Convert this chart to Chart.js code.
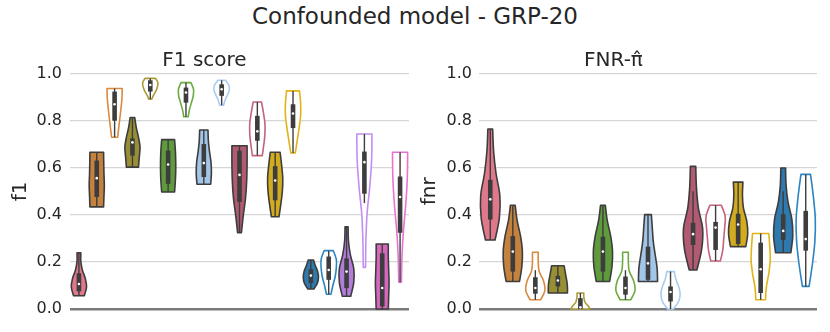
<!DOCTYPE html>
<html>
<head>
<meta charset="utf-8">
<script src="https://cdn.jsdelivr.net/npm/chart.js@4.4.1/dist/chart.umd.min.js"></script>
<style>
  html, body { margin: 0; padding: 0; background: #fff; }
  #wrap { position: relative; width: 830px; height: 332px; overflow: hidden; }
  #suptitle {
    position: absolute; left: 0; top: 3px; width: 830px; text-align: center;
    font-family: "DejaVu Sans", sans-serif; font-size: 23px; color: #262626;
  }
  .panel { position: absolute; top: 0; height: 332px; }
</style>
</head>
<body>
<div id="wrap">
  <div id="suptitle">Confounded model - GRP-20</div>
  <div class="panel" style="left:0;width:410px"><canvas id="f1-chart" width="410" height="332"></canvas></div>
  <div class="panel" style="left:410px;width:420px"><canvas id="fnr-chart" width="420" height="332"></canvas></div>
</div>
<script>
// Colours (filled violin / outline violin pairs)
const PINK = '#e0788c';
const ORANGE = '#c5813e', ORANGE_L = '#d98a3e';
const OLIVE = '#988f35', OLIVE_L = '#ab9c38';
const GREEN = '#5f9b3c', GREEN_L = '#6aab42';
const LBLUE = '#a3c5e8', LBLUE_L = '#a8ccf0';
const MAROON = '#b15a72', MAROON_L = '#c4637b';
const YELLOW = '#d2ab1e', YELLOW_L = '#e0b417';
const BLUE = '#2e79ad', BLUE_L = '#2a85c0';
const PURPLE = '#b27dd9', PURPLE_L = '#c48ef0';
const MAGENTA = '#d568bd', MAGENTA_L = '#e873d2';

const yTicks = [0, 0.2, 0.4, 0.6, 0.8, 1.0];

// ---- F1 score panel ----
const f1Labels = ['v1','v2','v3','v4','v5','v6','v7','v8','v9','v10','v11','v12','v13','v14','v15','v16','v17','v18','v19'];
const f1Colors = [PINK, ORANGE, ORANGE_L, OLIVE, OLIVE_L, GREEN, GREEN_L, LBLUE, LBLUE_L, MAROON, MAROON_L,
                  YELLOW, YELLOW_L, BLUE, BLUE_L, PURPLE, PURPLE_L, MAGENTA, MAGENTA_L];
const f1Filled = [true, true, false, true, false, true, false, true, false, true, false,
                  true, false, true, false, true, false, true, false];
const f1Min = [0.056, 0.434, 0.730, 0.603, 0.892, 0.497, 0.817, 0.530, 0.866, 0.324, 0.652, 0.392, 0.663, 0.085, 0.063, 0.054, 0.177, 0.000, 0.114];
const f1Max = [0.239, 0.666, 0.937, 0.814, 0.980, 0.720, 0.962, 0.761, 0.972, 0.694, 0.880, 0.666, 0.927, 0.208, 0.248, 0.349, 0.744, 0.276, 0.666];
const f1Q1  = [0.075, 0.476, 0.800, 0.652, 0.924, 0.532, 0.877, 0.561, 0.906, 0.455, 0.715, 0.462, 0.769, 0.110, 0.124, 0.089, 0.490, 0.011, 0.324];
const f1Med = [0.106, 0.556, 0.870, 0.708, 0.952, 0.614, 0.920, 0.620, 0.934, 0.570, 0.755, 0.546, 0.831, 0.142, 0.166, 0.159, 0.624, 0.089, 0.476];
const f1Q3  = [0.152, 0.631, 0.924, 0.725, 0.972, 0.673, 0.941, 0.701, 0.955, 0.673, 0.821, 0.607, 0.870, 0.169, 0.223, 0.215, 0.669, 0.237, 0.563];
const f1WhiskLo = [0.056, 0.434, 0.730, 0.603, 0.892, 0.497, 0.817, 0.530, 0.866, 0.324, 0.652, 0.392, 0.663, 0.085, 0.063, 0.054, 0.450, 0.000, 0.114];
const f1WhiskHi = [0.239, 0.666, 0.937, 0.814, 0.980, 0.720, 0.962, 0.761, 0.972, 0.694, 0.880, 0.666, 0.927, 0.208, 0.248, 0.349, 0.744, 0.276, 0.666];
// relative violin widths, from min (first) to max (last)
const f1Widths = [
  [0.7, 1.0, 0.85, 0.45, 0.25, 0.25],
  [0.9, 0.95, 1.0, 0.95, 0.92, 0.9],
  [0.4, 0.55, 0.7, 0.85, 0.97, 1.0],
  [0.8, 0.9, 1.0, 0.8, 0.5, 0.3],
  [0.2, 0.45, 0.75, 0.95, 1.0, 0.7],
  [0.85, 0.95, 1.0, 1.0, 0.95, 0.85],
  [0.3, 0.45, 0.7, 0.95, 1.0, 0.65],
  [0.9, 1.0, 0.95, 0.75, 0.6, 0.55],
  [0.25, 0.45, 0.75, 1.0, 0.95, 0.5],
  [0.25, 0.5, 0.8, 0.95, 1.0, 1.0],
  [0.65, 0.85, 1.0, 1.0, 0.8, 0.55],
  [0.5, 0.75, 0.95, 1.0, 0.85, 0.65],
  [0.3, 0.55, 0.8, 1.0, 1.0, 0.85],
  [0.4, 0.85, 1.0, 0.9, 0.6, 0.35],
  [0.3, 0.55, 0.85, 1.0, 1.0, 0.6],
  [0.55, 0.95, 0.95, 0.5, 0.25, 0.2],
  [0.15, 0.2, 0.35, 0.7, 0.95, 1.0],
  [0.8, 0.85, 0.9, 0.85, 0.8, 0.8],
  [0.18, 0.25, 0.45, 0.75, 0.95, 1.0]
];

// ---- FNR panel ----
const fnrLabels = ['v1','v2','v3','v4','v5','v6','v7','v8','v9','v10','v11','v12','v13','v14','v15'];
const fnrColors = [PINK, ORANGE, ORANGE_L, OLIVE, OLIVE_L, GREEN, GREEN_L, LBLUE, LBLUE_L, MAROON, MAROON_L,
                   YELLOW, YELLOW_L, BLUE, BLUE_L];
const fnrFilled = [true, true, false, true, false, true, false, true, false, true, false, true, false, true, false];
const fnrMin = [0.293, 0.117, 0.039, 0.068, 0.000, 0.117, 0.039, 0.117, 0.000, 0.166, 0.204, 0.265, 0.039, 0.239, 0.096];
const fnrMax = [0.765, 0.441, 0.241, 0.184, 0.068, 0.441, 0.241, 0.401, 0.159, 0.606, 0.441, 0.539, 0.321, 0.599, 0.572];
const fnrQ1  = [0.380, 0.159, 0.065, 0.096, 0.000, 0.159, 0.061, 0.124, 0.032, 0.272, 0.251, 0.276, 0.068, 0.293, 0.248];
const fnrMed = [0.466, 0.244, 0.089, 0.121, 0.007, 0.244, 0.089, 0.194, 0.072, 0.318, 0.346, 0.359, 0.169, 0.332, 0.297];
const fnrQ3  = [0.549, 0.310, 0.135, 0.141, 0.046, 0.307, 0.138, 0.265, 0.096, 0.366, 0.370, 0.405, 0.282, 0.403, 0.417];
const fnrWhiskLo = [0.293, 0.117, 0.039, 0.068, 0.000, 0.117, 0.039, 0.117, 0.000, 0.166, 0.204, 0.265, 0.039, 0.239, 0.096];
const fnrWhiskHi = [0.765, 0.441, 0.165, 0.184, 0.068, 0.441, 0.165, 0.401, 0.159, 0.500, 0.441, 0.539, 0.321, 0.500, 0.572];
const fnrWidths = [
  [0.5, 0.95, 1.0, 0.6, 0.35, 0.25],
  [0.7, 0.95, 1.0, 0.8, 0.45, 0.25],
  [0.55, 1.0, 0.85, 0.4, 0.3, 0.3],
  [1.0, 1.0, 0.95, 0.85, 0.75, 0.65],
  [1.0, 0.8, 0.5, 0.4, 0.35, 0.35],
  [0.7, 0.95, 1.0, 0.8, 0.45, 0.25],
  [0.55, 1.0, 0.85, 0.4, 0.3, 0.3],
  [1.0, 0.95, 0.75, 0.55, 0.45, 0.35],
  [0.3, 0.85, 1.0, 0.85, 0.55, 0.4],
  [0.4, 0.9, 1.0, 0.55, 0.35, 0.28],
  [0.5, 0.75, 0.85, 0.95, 1.0, 0.6],
  [0.8, 1.0, 0.9, 0.55, 0.45, 0.5],
  [0.5, 0.6, 0.85, 1.0, 0.95, 0.85],
  [0.8, 1.0, 0.9, 0.5, 0.3, 0.25],
  [0.35, 0.7, 0.95, 1.0, 0.8, 0.5]
];

const DARK = '#3d3d3d';
const FONT = '"DejaVu Sans", sans-serif';

// Smooth curve through points (Catmull-Rom -> bezier), continuing current path
function curveThrough(ctx, pts) {
    for (let i = 0; i < pts.length - 1; i++) {
        const p0 = pts[i - 1] || pts[i];
        const p1 = pts[i];
        const p2 = pts[i + 1];
        const p3 = pts[i + 2] || p2;
        ctx.bezierCurveTo(
            p1.x + (p2.x - p0.x) / 6, p1.y + (p2.y - p0.y) / 6,
            p2.x - (p3.x - p1.x) / 6, p2.y - (p3.y - p1.y) / 6,
            p2.x, p2.y);
    }
}

// Draw violins using the chart's scales
const violinPlugin = {
    id: 'violins',
    afterDatasetsDraw(chart) {
        const v = chart.options.plugins.violins;
        const ctx = chart.ctx;
        const xs = chart.scales.x, ys = chart.scales.y;
        const slot = xs.width / v.labels.length;
        const maxHalf = slot * 0.85 / 2;
        ctx.save();
        v.labels.forEach((_, i) => {
            const xc = xs.getPixelForValue(i);
            const w = v.widths[i];
            const n = w.length;
            const right = [], left = [];
            for (let k = 0; k < n; k++) {
                const val = v.min[i] + (v.max[i] - v.min[i]) * k / (n - 1);
                const y = ys.getPixelForValue(val);
                right.push({ x: xc + w[k] * maxHalf, y: y });
                left.unshift({ x: xc - w[k] * maxHalf, y: y });
            }
            ctx.beginPath();
            ctx.moveTo(right[0].x, right[0].y);
            curveThrough(ctx, right);
            ctx.lineTo(left[0].x, left[0].y);
            curveThrough(ctx, left);
            ctx.closePath();
            if (v.filled[i]) {
                ctx.fillStyle = v.colors[i];
                ctx.fill();
                ctx.strokeStyle = DARK;
            } else {
                ctx.fillStyle = '#ffffff';
                ctx.fill();
                ctx.strokeStyle = v.colors[i];
            }
            ctx.lineWidth = 1.6;
            ctx.lineJoin = 'round';
            ctx.stroke();

            // inner box
            ctx.strokeStyle = DARK;
            ctx.lineWidth = 1.4;
            ctx.beginPath();
            ctx.moveTo(xc, ys.getPixelForValue(v.whiskLo[i]));
            ctx.lineTo(xc, ys.getPixelForValue(v.whiskHi[i]));
            ctx.stroke();
            const yq1 = ys.getPixelForValue(v.q1[i]);
            const yq3 = ys.getPixelForValue(v.q3[i]);
            ctx.fillStyle = DARK;
            ctx.fillRect(xc - 2.3, yq3, 4.6, Math.max(yq1 - yq3, 1));
            ctx.fillStyle = '#ffffff';
            ctx.beginPath();
            ctx.arc(xc, ys.getPixelForValue(v.med[i]), 1.3, 0, Math.PI * 2);
            ctx.fill();
        });
        ctx.restore();
    }
};

function makeChart(canvasId, title, yTitle, yTitlePad, tickPad, padding, d) {
    const ctx = document.getElementById(canvasId);
    return new Chart(ctx, {
        type: 'bar',
        data: {
            labels: d.labels,
            datasets: [{
                label: yTitle,
                data: d.labels.map((_, i) => [d.min[i], d.max[i]]),
                backgroundColor: 'rgba(0,0,0,0)',
                borderWidth: 0
            }]
        },
        options: {
            responsive: false,
            animation: false,
            layout: { padding: padding },
            plugins: {
                legend: { display: false },
                tooltip: { enabled: false },
                title: {
                    display: true,
                    text: title,
                    color: '#262626',
                    font: { family: FONT, size: 20, weight: 'normal' },
                    padding: { top: 48.5, bottom: 1.2 }
                },
                violins: d
            },
            scales: {
                x: {
                    display: false,
                    offset: true
                },
                y: {
                    min: 0,
                    max: 1.0,
                    afterBuildTicks: (scale) => { scale.ticks = yTicks.map(v => ({ value: v })); },
                    afterFit: (scale) => { scale.width = padding.yWidth; },
                    border: { display: false },
                    grid: {
                        drawTicks: false,
                        color: (c) => c.tick && c.tick.value === 0 ? '#7a7a7a' : '#d6d6d6',
                        lineWidth: (c) => c.tick && c.tick.value === 0 ? 2.6 : 1.2
                    },
                    ticks: {
                        padding: tickPad,
                        color: '#262626',
                        font: { family: FONT, size: 16 },
                        callback: (v) => Number(v).toFixed(1)
                    },
                    title: {
                        display: true,
                        text: yTitle,
                        color: '#262626',
                        font: { family: FONT, size: 20 },
                        padding: { top: yTitlePad, bottom: 0 }
                    }
                }
            }
        },
        plugins: [violinPlugin]
    });
}

makeChart('f1-chart', 'F1 score', 'f1', 9, 8,
    { top: 0, bottom: 23, left: 0, right: 1, yWidth: 70 },
    { labels: f1Labels, colors: f1Colors, filled: f1Filled, min: f1Min, max: f1Max,
      q1: f1Q1, med: f1Med, q3: f1Q3, whiskLo: f1WhiskLo, whiskHi: f1WhiskHi, widths: f1Widths });

makeChart('fnr-chart', 'FNR-\u03C0\u0302', 'fnr', 8, 7,
    { top: 0, bottom: 23, left: 0, right: 13, yWidth: 69 },
    { labels: fnrLabels, colors: fnrColors, filled: fnrFilled, min: fnrMin, max: fnrMax,
      q1: fnrQ1, med: fnrMed, q3: fnrQ3, whiskLo: fnrWhiskLo, whiskHi: fnrWhiskHi, widths: fnrWidths });
</script>
</body>
</html>
